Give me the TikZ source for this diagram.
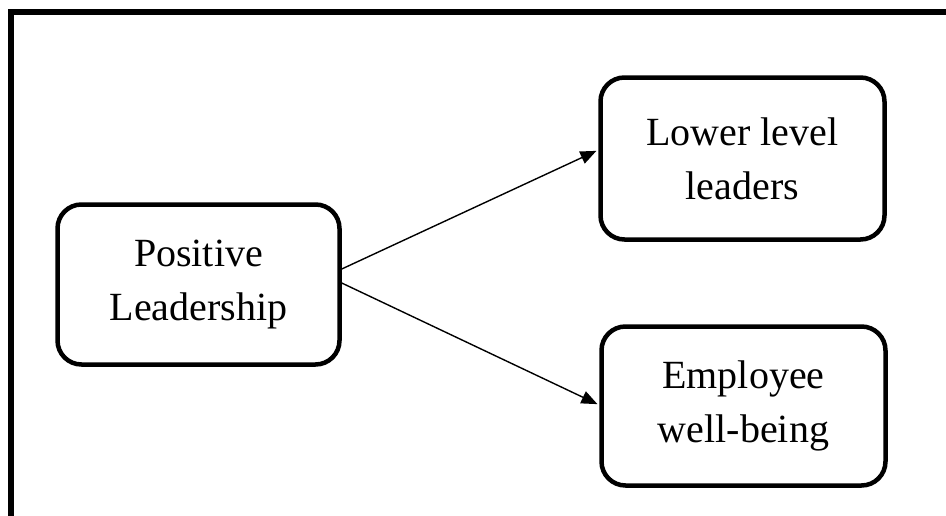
\documentclass[tikz,border=0pt]{standalone}
\usepackage{fontspec}
\setmainfont{Liberation Serif}
\usetikzlibrary{arrows.meta}
\begin{document}
\begin{tikzpicture}[x=1pt,y=-1pt,
  concept/.style={draw, line width=4.5pt, rounded corners=24pt, align=center,
    inner sep=0pt, font=\fontsize{40}{54}\selectfont},
  link/.style={line width=1.4pt, shorten >=2pt, -{Triangle[length=16pt,width=13pt]}}]
  \useasboundingbox (0,0) rectangle (946,515);
  % outer frame, running past the right and bottom edges
  \begin{scope}
    \clip (0,0) rectangle (946,515);
    \draw[line width=5.5pt] (11,12) rectangle (980,560);
  \end{scope}
  \node[concept, minimum width=282pt, minimum height=160pt] (pos) at (198.5,284.5) {Positive\\Leadership};
  \node[concept, minimum width=284pt, minimum height=162pt] (low) at (742.5,158.5) {Lower level\\leaders};
  \node[concept, minimum width=284pt, minimum height=159pt] (emp) at (743.5,406) {Employee\\well-being};
  \draw[link] ([yshift=15.5pt]pos.east) -- ([yshift=8.5pt]low.west);
  \draw[link] ([yshift=1.5pt]pos.east) -- ([yshift=1pt]emp.west);
\end{tikzpicture}
\end{document}
